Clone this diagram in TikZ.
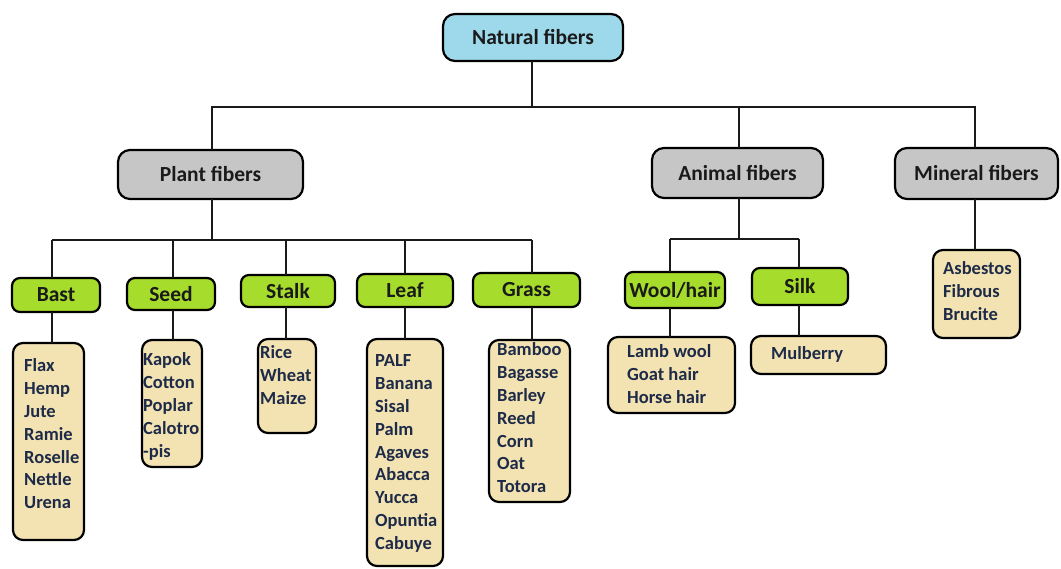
\documentclass[tikz,border=0pt]{standalone}
\usepackage{fontspec}
\newfontfamily\cf{Carlito}
\definecolor{blueF}{HTML}{9DD9EA}
\definecolor{grayF}{HTML}{C6C6C6}
\definecolor{greenF}{HTML}{A6DC2C}
\definecolor{creamF}{HTML}{F3E3B3}
\definecolor{navy}{HTML}{1E2B48}
\definecolor{ink}{HTML}{1A1A1A}
\newcommand\hdrfont{\cf\bfseries\fontsize{21.5}{25}\selectfont}
\newcommand\lstfont{\cf\bfseries\fontsize{18.5}{22.8}\selectfont}
\newcommand\mylist[1]{\begin{tabular}[t]{@{}l@{}}#1\end{tabular}}
\begin{document}
\begin{tikzpicture}[x=1pt,y=-1pt,
 box/.style={draw=black, line width=2.2pt, inner sep=0pt, outer sep=0pt},
 topbox/.style={box, fill=blueF, rounded corners=12pt, font=\hdrfont, text=ink},
 catbox/.style={box, fill=grayF, rounded corners=12pt, font=\hdrfont, text=ink},
 subbox/.style={box, fill=greenF, rounded corners=8pt, font=\hdrfont, text=ink},
 listbox/.style={box, fill=creamF, rounded corners=10pt},
 listtxt/.style={anchor=base west, inner sep=0pt, font=\lstfont, text=navy},
 conn/.style={draw=ink, line width=1.8pt}]
\useasboundingbox (0,0) rectangle (1061,569);

% top and category boxes
\node[topbox, minimum width=180pt, minimum height=47pt] (nat) at (533,37.5) {Natural fibers};
\node[catbox, minimum width=185pt, minimum height=49pt] (plant) at (210.5,174.5) {Plant fibers};
\node[catbox, minimum width=171pt, minimum height=50pt] (animal) at (737.5,173) {Animal fibers};
\node[catbox, minimum width=163pt, minimum height=51pt] (mineral) at (976.5,173.5) {Mineral fibers};

% sub-category boxes
\node[subbox, minimum width=88pt, minimum height=34pt] (bast) at (56,295) {Bast};
\node[subbox, minimum width=88pt, minimum height=32pt] (seed) at (171,294) {Seed};
\node[subbox, minimum width=94pt, minimum height=32pt] (stalk) at (288,291) {Stalk};
\node[subbox, minimum width=96pt, minimum height=33pt] (leaf) at (405,290.5) {Leaf};
\node[subbox, minimum width=107pt, minimum height=34pt] (grass) at (526.5,290) {Grass};
\node[subbox, minimum width=100pt, minimum height=36pt] (wool) at (675,290) {Wool/hair};
\node[subbox, minimum width=96pt, minimum height=37pt] (silk) at (800,286.5) {Silk};

% list boxes
\node[listbox, minimum width=71pt, minimum height=197pt] (bastL) at (48.5,441.5) {};
\node[listbox, minimum width=60pt, minimum height=127pt] (seedL) at (172,403.5) {};
\node[listbox, minimum width=58pt, minimum height=94pt] (stalkL) at (287,386) {};
\node[listbox, minimum width=76pt, minimum height=227pt] (leafL) at (405,452.5) {};
\node[listbox, minimum width=81pt, minimum height=162pt] (grassL) at (529.5,421) {};
\node[listbox, minimum width=127pt, minimum height=76pt] (woolL) at (671.5,375) {};
\node[listbox, minimum width=135pt, minimum height=38pt] (mulL) at (818.5,355) {};
\node[listbox, minimum width=87pt, minimum height=88pt] (minL) at (976.5,294) {};

% list texts
\node[listtxt] (bastT) at (24,372) {\mylist{Flax\\Hemp\\Jute\\Ramie\\Roselle\\Nettle\\Urena}};
\node[listtxt] (seedT) at (143,366) {\mylist{Kapok\\Cotton\\Poplar\\Calotro\\-pis}};
\node[listtxt] (stalkT) at (260,359) {\mylist{Rice\\Wheat\\Maize}};
\node[listtxt] (leafT) at (375,367) {\mylist{PALF\\Banana\\Sisal\\Palm\\Agaves\\Abacca\\Yucca\\Opuntia\\Cabuye}};
\node[listtxt] (grassT) at (497,356) {\mylist{Bamboo\\Bagasse\\Barley\\Reed\\Corn\\Oat\\Totora}};
\node[listtxt] (woolT) at (627,358) {\mylist{Lamb wool\\Goat hair\\Horse hair}};
\node[listtxt] (mulT) at (771,360) {\mylist{Mulberry}};
\node[listtxt] (minT) at (943,275) {\mylist{Asbestos\\Fibrous\\Brucite}};

% connector junctions
\coordinate (busL) at (212,107);
\coordinate (busR) at (975,107);
\coordinate (pb) at (212,240);
\coordinate (pb1) at (52,240);
\coordinate (pb2) at (173,240);
\coordinate (pb3) at (286,240);
\coordinate (pb4) at (405,240);
\coordinate (pb5) at (532,240);
\coordinate (ab) at (739,239);
\coordinate (ab1) at (670,239);
\coordinate (ab2) at (799,239);

% top level connectors
\draw[conn] (nat.south -| 532,0) -- (532,107);
\draw[conn] (plant.north -| busL) -- (busL) -- (busR) -- (mineral.north -| busR);
\draw[conn] (animal.north -| ab) -- (ab |- busL);

% plant branch
\draw[conn] (plant.south -| pb) -- (pb);
\draw[conn] (pb1) -- (pb5);
\foreach \c/\s in {pb1/bast, pb2/seed, pb3/stalk, pb4/leaf, pb5/grass}{
  \draw[conn] (\c) -- (\c |- \s.north);
  \draw[conn] (\s.south -| \c) -- (\c |- \s L.north);
}

% animal branch
\draw[conn] (animal.south -| ab) -- (ab);
\draw[conn] (ab1) -- (ab2);
\draw[conn] (ab1) -- (ab1 |- wool.north);
\draw[conn] (ab2) -- (ab2 |- silk.north);
\draw[conn] (wool.south -| ab1) -- (ab1 |- woolL.north);
\draw[conn] (silk.south -| ab2) -- (ab2 |- mulL.north);

% mineral branch
\draw[conn] (mineral.south -| busR) -- (busR |- minL.north);
\end{tikzpicture}
\end{document}
